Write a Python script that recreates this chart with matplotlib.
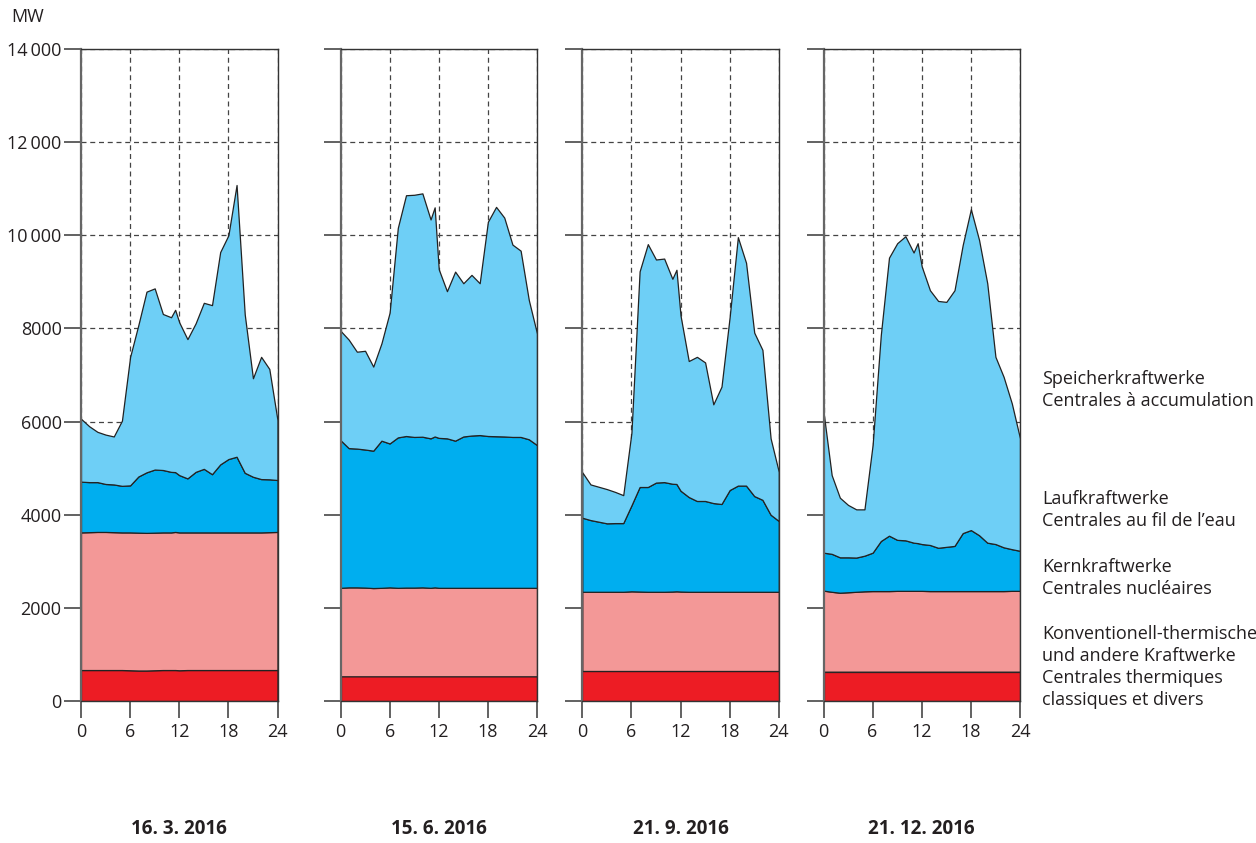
import numpy as np
import matplotlib
matplotlib.use("Agg")
import matplotlib.pyplot as plt

plt.rcParams['font.family'] = ['Open Sans', 'DejaVu Sans']

# hours of the day (extra point at 11:30 where the curves show a small spike)
hours = [0, 1, 2, 3, 4, 5, 6, 7, 8, 9, 10, 11, 11.5, 12, 13, 14, 15, 16, 17, 18, 19, 20, 21, 22, 23, 24]

dates = ['16. 3. 2016', '15. 6. 2016', '21. 9. 2016', '21. 12. 2016']

# MW per plant type, bottom to top
# 16.3.2016
conv_mar = [665, 665, 665, 665, 665, 665, 660, 655, 655, 660, 665, 665, 665, 660, 665, 665, 665, 665, 665, 665, 665, 665, 665, 665, 665, 665]
kern_mar = [2955, 2960, 2965, 2965, 2960, 2955, 2960, 2960, 2955, 2955, 2955, 2955, 2965, 2960, 2955, 2955, 2955, 2955, 2955, 2955, 2955, 2955, 2955, 2955, 2960, 2965]
lauf_mar = [1090, 1075, 1070, 1030, 1025, 1000, 1010, 1205, 1300, 1355, 1340, 1300, 1285, 1230, 1160, 1300, 1365, 1250, 1460, 1575, 1625, 1280, 1195, 1145, 1135, 1115]
speicher_mar = [1350, 1200, 1080, 1060, 1030, 1400, 2760, 3250, 3880, 3890, 3350, 3320, 3485, 3280, 2990, 3190, 3565, 3630, 4560, 4805, 5835, 3400, 2115, 2625, 2370, 1285]

# 15.6.2016
conv_jun = [530] * 26
kern_jun = [1900, 1910, 1910, 1905, 1895, 1900, 1910, 1900, 1905, 1905, 1910, 1900, 1910, 1900, 1900, 1900, 1900, 1900, 1900, 1900, 1900, 1900, 1900, 1900, 1900, 1900]
lauf_jun = [3170, 2990, 2980, 2965, 2950, 3160, 3090, 3230, 3255, 3235, 3235, 3210, 3240, 3220, 3210, 3160, 3250, 3270, 3280, 3260, 3255, 3250, 3240, 3240, 3190, 3065]
speicher_jun = [2350, 2330, 2080, 2120, 1805, 2090, 2810, 4500, 5170, 5200, 5225, 4700, 4920, 3620, 3160, 3630, 3290, 3450, 3260, 4600, 4925, 4700, 4130, 4000, 2990, 2395]

# 21.9.2016
conv_sep = [645] * 26
kern_sep = [1700, 1700, 1700, 1700, 1700, 1700, 1710, 1705, 1700, 1700, 1700, 1705, 1710, 1705, 1700, 1700, 1700, 1700, 1700, 1700, 1700, 1700, 1700, 1700, 1700, 1700]
lauf_sep = [1590, 1540, 1505, 1470, 1475, 1475, 1845, 2245, 2250, 2345, 2355, 2315, 2305, 2165, 2035, 1950, 1950, 1905, 1885, 2185, 2280, 2280, 2055, 1975, 1655, 1520]
speicher_sep = [975, 765, 750, 735, 670, 600, 1560, 4630, 5215, 4790, 4800, 4400, 4600, 3760, 2920, 3095, 2975, 2120, 2520, 3720, 5335, 4785, 3510, 3220, 1640, 1055]

# 21.12.2016
conv_dec = [630] * 26
kern_dec = [1740, 1715, 1695, 1705, 1715, 1725, 1730, 1730, 1730, 1735, 1735, 1735, 1735, 1735, 1730, 1730, 1730, 1730, 1730, 1730, 1730, 1730, 1730, 1730, 1735, 1735]
lauf_dec = [815, 815, 760, 750, 735, 765, 825, 1075, 1190, 1095, 1085, 1035, 1025, 1005, 990, 930, 950, 970, 1245, 1310, 1200, 1040, 1010, 940, 895, 860]
speicher_dec = [3025, 1690, 1280, 1125, 1035, 995, 2315, 4425, 5970, 6370, 6530, 6230, 6440, 5960, 5470, 5300, 5260, 5490, 6185, 6890, 6340, 5570, 4020, 3660, 3130, 2415]

panels = [
    (conv_mar, kern_mar, lauf_mar, speicher_mar),
    (conv_jun, kern_jun, lauf_jun, speicher_jun),
    (conv_sep, kern_sep, lauf_sep, speicher_sep),
    (conv_dec, kern_dec, lauf_dec, speicher_dec),
]

colors = ['#ED1C24', '#F39897', '#00AEEF', '#6ECFF6']

y_ticks = [0, 2000, 4000, 6000, 8000, 10000, 12000, 14000]
y_labels = ['0', '2000', '4000', '6000', '8000', '10\u2009000', '12\u2009000', '14\u2009000']
x_ticks = [0, 6, 12, 18, 24]

legend_texts = [
    'Speicherkraftwerke\nCentrales à accumulation',
    'Laufkraftwerke\nCentrales au fil de l\u2019eau',
    'Kernkraftwerke\nCentrales nucléaires',
    'Konventionell-thermische\nund andere Kraftwerke\nCentrales thermiques\nclassiques et divers',
]
legend_y = [390, 510, 578, 667]   # pixel centres

W, H = 1256, 843
fig = plt.figure(figsize=(W / 100, H / 100), dpi=100)

lefts = [81, 340.5, 582.3, 823.5]
pw = 196.5
top_px, bot_px = 49, 701

txt = '#231F20'
for i, (left, data) in enumerate(zip(lefts, panels)):
    ax = fig.add_axes([left / W, 1 - bot_px / H, pw / W, (bot_px - top_px) / H])
    ax.stackplot(hours, *data, colors=colors, edgecolor='#222222', linewidth=0.9)
    ax.set_xlim(0, 24)
    ax.set_ylim(0, 14000)
    ax.set_xticks(x_ticks)
    ax.set_yticks(y_ticks)
    ax.set_axisbelow(True)
    ax.grid(True, linestyle=(0, (4, 3)), color='#444444', linewidth=0.9)
    for s in ax.spines.values():
        s.set_color('#333333')
        s.set_linewidth(1.0)
    ax.spines['left'].set_color('#666666')
    ax.spines['left'].set_linewidth(1.6)
    ax.tick_params(direction='out', length=12, width=1.3, color='#555555',
                   labelsize=13, labelcolor=txt)
    ax.tick_params(axis='y', pad=2)
    ax.tick_params(axis='x', pad=4)
    if i == 0:
        ax.set_yticklabels(y_labels)
    else:
        ax.set_yticklabels([])
    fig.text((left + pw / 2) / W, 1 - 829 / H, dates[i], ha='center', va='center',
             fontsize=13.5, fontweight='bold', color=txt)

for t, y in zip(legend_texts, legend_y):
    fig.text(1042 / W, 1 - y / H, t, ha='left', va='center', fontsize=13,
             color=txt, linespacing=1.3)

fig.text(28 / W, 1 - 17 / H, 'MW', ha='center', va='center', fontsize=13, color=txt)

fig.savefig('out.png', dpi=100)
